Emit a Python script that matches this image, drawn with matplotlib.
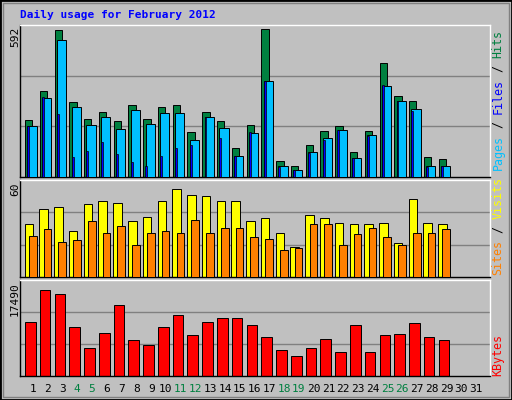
import matplotlib
matplotlib.use("Agg")
import matplotlib.pyplot as plt
from matplotlib.patches import Rectangle

days = list(range(1, 32))
hits = [228,342,585,299,232,260,224,287,232,279,287,180,260,224,117,208,592,62,42,129,184,204,101,184,456,322,303,78,70]
files = [204,314,547,279,208,239,192,267,212,255,255,149,239,196,82,176,382,42,26,101,157,188,74,168,362,303,271,42,42]
pages = [204,318,251,78,105,141,93,58,42,82,117,129,239,157,82,180,382,38,26,97,149,188,74,164,366,303,263,38,42]
visits = [33.9,43,44.2,29.1,46,48.5,46.7,35.8,38.2,48.5,55.8,52.1,51.5,47.9,48.5,35.8,37.6,27.9,18.8,39.4,37.6,34.5,33.9,33.9,34.5,21.8,49.7,34.5,33.9]
sites = [26.1,30.3,22.4,23.6,35.8,27.9,32.1,20.6,27.9,29.1,27.9,36.4,27.9,30.9,30.9,25.5,24.2,17,18.2,33.9,33.9,20,27.3,30.9,25.5,20.6,27.9,27.9,30.3]
kbytes = [10129,16136,15252,9069,5182,8009,13309,6772,5712,9069,11366,7656,10129,10836,10836,9599,7302,4829,3769,5182,6949,4476,9599,4476,7656,7832,9952,7302,6772]
weekends = [4,5,11,12,18,19,25,26]
max_labels = ["592", "60", "17490"]
ymax = [592, 60, 17490]

W, H = 512, 400
fig = plt.figure(figsize=(W/100, H/100), dpi=100, facecolor="#C0C0C0")
mono = "DejaVu Sans Mono"

def ax_at(x0, y0, x1, y1):
    ax = fig.add_axes([x0/W, 1-y1/H, (x1-x0)/W, (y1-y0)/H])
    ax.set_facecolor("#C0C0C0")
    ax.set_xlim(0.12, 31.94)
    ax.set_xticks([]); ax.set_yticks([])
    for s in ax.spines.values():
        s.set_color("black"); s.set_linewidth(1)
    ax.spines["top"].set_color("white")
    ax.spines["right"].set_color("white")
    return ax

panels = [(25, 177), (180, 277), (280, 376)]
axes = [ax_at(20, a, 490, b) for a, b in panels]
for ax, m in zip(axes, ymax):
    top = m*1.025
    ax.set_ylim(0, top)
    for f in (1/3, 2/3):
        ax.axhline(top*f, color="#808080", lw=1, zorder=0)

n = len(hits)
x = days[:n]
ec = dict(edgecolor="black", linewidth=0.7)
a0, a1, a2 = axes
a0.bar([d-0.29 for d in x], hits, width=0.5, align="center", color="#008040", **ec, zorder=2)
a0.bar([d-0.07 for d in x], files, width=0.62, align="center", color="#00C0FF", **ec, zorder=3)
a0.bar([d-0.32 for d in x], pages, width=0.13, align="center", color="#0000FF", edgecolor="black", linewidth=0.5, zorder=4)
a1.bar([d-0.28 for d in x], visits, width=0.58, color="#FFFF00", **ec, zorder=2)
a1.bar([d-0.02 for d in x], sites, width=0.52, color="#FF8000", **ec, zorder=3)
a2.bar([d-0.18 for d in x], kbytes, width=0.72, color="#FF0000", **ec, zorder=2)

def fy(py): return 1 - py/H
def fx(px): return px/W

fig.text(fx(20), fy(15), "Daily usage for February 2012", color="#0000FF",
         fontsize=8, fontweight="bold", family=mono, va="center", ha="left")

for (a, b), lab in zip(panels, max_labels):
    fig.text(fx(15), fy(a+2), lab, rotation=90, rotation_mode="anchor", ha="right", va="center",
             fontsize=8, family=mono, color="black")

cw = 7.0
def side(bottom_py, segs):
    y = bottom_py
    for txt, col in segs:
        fig.text(fx(498), fy(y), txt, rotation=90, rotation_mode="anchor", ha="left", va="center",
                 fontsize=8.4, family=mono, color=col)
        y -= cw*len(txt)
side(170, [("Pages", "#00C0FF"), (" / ", "black"), ("Files", "#0000FF"), (" / ", "black"), ("Hits", "#008040")])
side(275, [("Sites", "#FF8000"), (" / ", "black"), ("Visits", "#FFFF00")])
side(376, [("KBytes", "#FF0000")])

for d in days:
    px = 33 + (d-1)*14.77
    fig.text(fx(px), fy(389), str(d), ha="center", va="center", fontsize=8, family=mono,
             color="#008040" if d in weekends else "black")

fig.patches.append(Rectangle((0, 0), 1, 1, transform=fig.transFigure, fill=False,
                             edgecolor="black", linewidth=2))
fig.patches.append(Rectangle((fx(3), 3/H), 1-2*fx(3), 1-2*(3/H), transform=fig.transFigure,
                             fill=False, edgecolor="#808080", linewidth=1))
fig.savefig("out.png", dpi=100, facecolor=fig.get_facecolor())
